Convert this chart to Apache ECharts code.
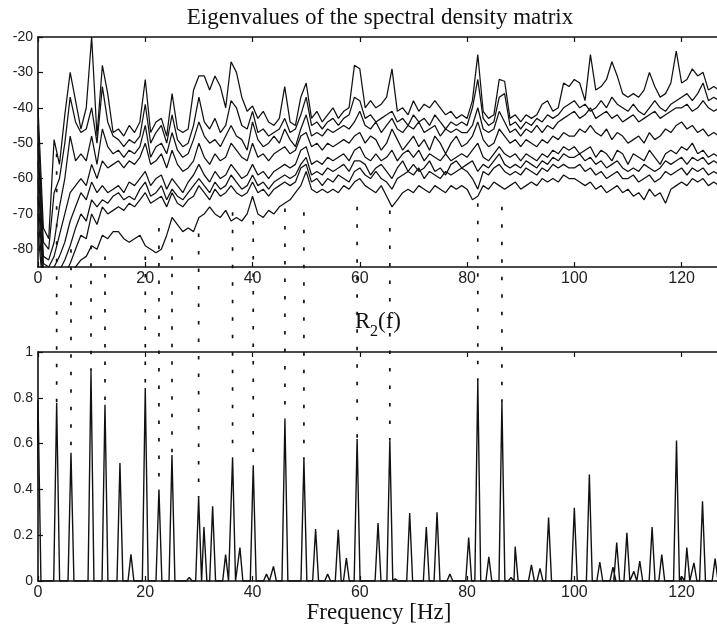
<!DOCTYPE html>
<html><head><meta charset="utf-8">
<script src="https://cdn.jsdelivr.net/npm/echarts@6/dist/echarts.min.js"></script>
<style>html,body{margin:0;padding:0;background:#fff}#c{width:717px;height:637px}</style>
</head><body><div id="c"></div>
<script>
// frequency grid (Hz), 1 Hz sampling
const freqHz = Array.from({length:128}, (_, i) => i);

// eigenvalues (dB), largest to smallest
const eig1 = [-40,-74,-77,-49,-56,-42,-30,-38,-46,-40,
 -20,-48,-28,-36,-47,-46,-48,-45,-47,-44,
 -32,-47,-44,-43,-48,-36,-46,-47,-46,-35,
 -31,-31,-35,-31,-34,-40,-27,-30,-37,-41,
 -39.5,-43,-41,-44,-45,-43,-34,-44,-45,-37,
 -33,-43,-41,-44,-42,-40,-43,-41,-40,-28,
 -29,-40,-38,-40,-39,-37,-29,-41,-40,-42,
 -38,-41,-39,-40,-38,-40,-42,-41,-43,-42,
 -43,-38,-25,-41,-43,-42,-32,-32.5,-43,-42,
 -44,-42,-43,-42,-39,-38,-41,-40,-33,-34,
 -32,-33,-38,-25,-35,-34,-32,-27,-31,-36,
 -37,-36,-37,-35,-30,-34,-37,-36,-33,-24,
 -33,-32,-29,-31,-30,-35,-34,-35];
const eig2 = [-45,-78,-80,-64,-60,-50,-37,-44,-47,-46,
 -40,-50,-34,-44,-48,-49,-51,-49,-50,-48,
 -39,-50,-47,-45,-50,-42,-49,-51,-50,-45,
 -37,-44,-46,-43,-47,-45,-38,-40,-45,-46,
 -41,-47,-46,-48,-47,-46,-43,-47,-46,-42,
 -37,-45,-44,-46,-44,-43,-45,-43,-42,-37,
 -38,-43,-42,-44,-43,-42,-41,-44,-43,-45,
 -42,-44,-43,-45,-42,-44,-46,-44,-45,-44,
 -45,-40,-32,-43,-45,-44,-37,-36,-45,-44,
 -46,-44,-45,-43,-44,-42,-43,-42,-40,-39,
 -38,-40,-39,-41,-40,-38,-40,-37,-39,-40,
 -41,-39,-41,-42,-40,-38,-40,-41,-39,-38,
 -37,-36,-38,-36,-33,-38,-37,-38];
const eig3 = [-50,-82,-83,-78,-68,-60,-48,-55,-53,-55,
 -48,-56,-46,-51,-53,-52,-54,-52,-53,-51,
 -45,-54,-51,-50,-53,-47,-52,-54,-53,-49,
 -44,-48,-50,-49,-51,-48,-45,-48,-49,-52,
 -44,-49,-51,-50,-48,-50,-46,-49,-51,-46,
 -42,-48,-47,-48,-46,-47,-46,-45,-46,-44,
 -41,-45,-46,-44,-47,-45,-43,-46,-47,-45,
 -46,-44,-47,-46,-45,-48,-46,-47,-46,-47,
 -47,-45,-40,-46,-47,-46,-41,-44,-47,-46,
 -48,-46,-47,-45,-47,-45,-46,-44,-43,-42,
 -41,-43,-42,-40,-43,-42,-41,-43,-42,-44,
 -43,-42,-44,-43,-42,-41,-43,-42,-41,-40,
 -40,-39,-41,-40,-38,-40,-41,-40];
const eig4 = [-55,-84,-85,-82,-76,-70,-64,-62,-60,-62,
 -56,-60,-55,-57,-56,-55,-57,-55,-56,-54,
 -50,-56,-55,-53,-57,-52,-56,-58,-57,-55,
 -50,-54,-56,-53,-55,-54,-50,-52,-54,-55,
 -50,-54,-53,-55,-53,-52,-51,-53,-52,-48,
 -47,-51,-50,-52,-50,-51,-50,-49,-50,-48,
 -47,-50,-48,-49,-52,-50,-46,-49,-52,-50,
 -48,-51,-49,-52,-48,-50,-53,-50,-48,-51,
 -50,-48,-44,-49,-51,-50,-46,-48,-50,-49,
 -51,-49,-50,-51,-49,-50,-48,-49,-47,-48,
 -48,-46,-47,-45,-47,-48,-46,-49,-47,-48,
 -50,-49,-48,-50,-47,-49,-48,-46,-47,-45,
 -44,-46,-45,-47,-46,-48,-47,-48];
const eig5 = [-60,-86,-87,-85,-82,-78,-72,-68,-64,-66,
 -61,-64,-62,-64,-63,-62,-64,-61,-62,-60,
 -58,-62,-60,-59,-63,-60,-62,-64,-61,-59,
 -56,-59,-61,-58,-60,-59,-56,-58,-60,-59,
 -56,-59,-58,-60,-58,-57,-56,-57,-56,-52,
 -51,-56,-55,-56,-54,-55,-54,-53,-55,-52,
 -51,-54,-55,-53,-55,-54,-52,-55,-53,-52,
 -54,-52,-55,-53,-54,-55,-53,-55,-54,-53,
 -54,-52,-50,-54,-55,-53,-51,-53,-54,-53,
 -55,-53,-54,-55,-53,-54,-52,-53,-51,-52,
 -51,-53,-52,-51,-54,-52,-53,-55,-52,-53,
 -56,-53,-54,-55,-52,-54,-56,-53,-52,-53,
 -51,-52,-50,-53,-52,-54,-53,-54];
const eig6 = [-65,-88,-89,-88,-86,-83,-79,-74,-70,-72,
 -66,-68,-66,-67,-65,-64,-66,-65,-66,-63,
 -61,-65,-64,-62,-66,-63,-65,-66,-64,-62,
 -60,-62,-64,-61,-63,-62,-59,-61,-63,-62,
 -59,-62,-61,-63,-61,-60,-59,-60,-59,-56,
 -54,-59,-58,-59,-57,-58,-57,-56,-58,-55,
 -55,-56,-59,-57,-56,-58,-60,-57,-55,-58,
 -56,-58,-57,-55,-58,-57,-59,-56,-55,-57,
 -56,-55,-58,-56,-57,-55,-53,-56,-57,-56,
 -57,-55,-56,-57,-55,-56,-54,-55,-53,-54,
 -54,-53,-55,-54,-56,-55,-57,-56,-55,-57,
 -58,-57,-58,-56,-57,-58,-57,-55,-56,-55,
 -54,-56,-54,-55,-54,-56,-55,-56];
const eig7 = [-70,-90,-91,-90,-89,-87,-84,-80,-76,-77,
 -70,-73,-68,-70,-69,-68,-69,-67,-68,-66,
 -64,-67,-66,-65,-68,-64,-67,-68,-66,-65,
 -62,-64,-66,-63,-65,-64,-62,-64,-65,-64,
 -61,-64,-63,-65,-63,-62,-61,-62,-61,-57,
 -56,-61,-60,-62,-60,-61,-59,-60,-61,-58,
 -57,-59,-60,-58,-60,-61,-63,-60,-59,-58,
 -59,-57,-60,-58,-59,-60,-58,-59,-58,-57,
 -58,-60,-63,-58,-59,-57,-56,-58,-59,-58,
 -59,-57,-58,-59,-57,-58,-56,-57,-56,-57,
 -57,-56,-58,-57,-59,-58,-60,-59,-58,-60,
 -60,-59,-61,-60,-59,-61,-60,-58,-59,-58,
 -57,-59,-57,-58,-57,-59,-58,-59];
const eig8 = [-75,-92,-93,-92,-91,-89,-87,-85,-83,-82,
 -79,-80,-76,-77,-75,-75,-77,-78,-77,-76,
 -79,-80,-81,-80,-76,-71,-73,-75,-74,-75,
 -71,-70,-68,-70,-71,-69,-72,-71,-72,-70,
 -65,-70,-71,-69,-70,-68,-67,-66,-64,-62,
 -58,-63,-64,-63,-64,-63,-64,-62,-63,-61,
 -60,-62,-63,-64,-62,-65,-68,-66,-64,-63,
 -64,-62,-63,-64,-62,-63,-64,-62,-63,-62,
 -63,-66,-65,-62,-63,-61,-62,-63,-62,-61,
 -63,-62,-61,-62,-60,-61,-60,-61,-59,-60,
 -60,-61,-62,-61,-63,-62,-64,-63,-62,-64,
 -63,-65,-64,-66,-63,-65,-64,-67,-63,-62,
 -61,-62,-60,-61,-60,-62,-61,-62];
const eigSeries = [eig1, eig2, eig3, eig4, eig5, eig6, eig7, eig8];

// R2(f) peaks
const r2PeakFreq = [0,3.48,6.15,9.88,12.49,15.28,17.33,20.0,22.55,24.98,
 28.2,29.95,30.94,32.56,34.98,36.28,37.65,40.13,42.6,43.9,
 46.04,49.58,51.76,54.0,55.98,57.5,59.5,63.4,65.6,66.6,
 69.3,72.4,74.4,76.8,80.3,82.0,84.06,86.5,88.2,88.97,
 92.0,93.6,95.2,100.0,102.8,104.75,107.2,107.9,109.8,111.1,
 112.2,114.5,116.3,119.05,120.0,120.97,122.3,123.9,126.25];
const r2PeakValue = [0.79,0.777,0.56,0.913,0.77,0.515,0.116,0.843,0.40,0.55,
 0.015,0.364,0.236,0.326,0.115,0.54,0.146,0.505,0.03,0.064,
 0.706,0.53,0.227,0.03,0.224,0.10,0.62,0.253,0.614,0.01,
 0.297,0.236,0.30,0.03,0.19,0.873,0.105,0.78,0.015,0.15,
 0.07,0.055,0.277,0.32,0.465,0.083,0.06,0.168,0.21,0.042,
 0.087,0.236,0.115,0.614,0.02,0.146,0.079,0.348,0.098];

// dashed links: frequency and the dB level where each starts in the top panel
const markedFreq = [3.48,6.15,9.88,12.49,20.0,22.55,24.98,29.95,36.28,40.13,46.04,49.58,59.5,65.6,82.0,86.5];
const markedTopDb = [-53,-80,-79,-82,-82,-74,-77,-75.5,-69.5,-72,-68.5,-69.5,-68,-69,-67,-68];

const xTicks = [0,20,40,60,80,100,120];
const eigTicks = [-80,-70,-60,-50,-40,-30,-20];
const r2Ticks = [0,0.2,0.4,0.6,0.8,1];

const INK = '#111';
const halfW = 0.55;
const r2Points = [];
r2PeakFreq.forEach((f, i) => { r2Points.push([f - halfW, 0], [f, r2PeakValue[i]], [f + halfW, 0]); });

function xAx(grid, pos, showLabel) {
  return {type:'value', gridIndex:grid, position:pos, min:0, max:126.6,
    axisLine:{onZero:false, lineStyle:{color:INK, width:1.6}},
    axisTick:{inside:true, length:5, customValues:xTicks, lineStyle:{color:INK, width:1.2}},
    axisLabel:{show:showLabel, customValues:xTicks, fontSize:16, color:'#222', margin:4, fontFamily:'Liberation Sans'},
    splitLine:{show:false}};
}
function yAx(grid, min, max, ticks) {
  return {type:'value', gridIndex:grid, min:min, max:max,
    axisLine:{onZero:false, lineStyle:{color:INK, width:1.6}},
    axisTick:{inside:true, length:5, customValues:ticks, lineStyle:{color:INK, width:1.2}},
    axisLabel:{customValues:ticks, fontSize:14, color:'#222', margin:5, fontFamily:'Liberation Sans'},
    splitLine:{show:false}};
}

const series = eigSeries.map(arr => ({
  type:'line', xAxisIndex:0, yAxisIndex:0, showSymbol:false, symbol:'none', clip:true,
  lineStyle:{color:INK, width:1.25}, data: freqHz.map((f, i) => [f, arr[i]]), z:3
}));
series.push({type:'line', xAxisIndex:2, yAxisIndex:1, showSymbol:false, symbol:'none', clip:true,
  lineStyle:{color:INK, width:1.4}, data:r2Points, z:3});

const option = {
  animation:false,
  backgroundColor:'#fff',
  grid:[{left:38, right:0, top:37, height:230}, {left:38, right:0, top:352, height:229}],
  xAxis:[xAx(0,'bottom',true), xAx(0,'top',false), xAx(1,'bottom',true), xAx(1,'top',false)],
  yAxis:[yAx(0,-85,-20,eigTicks), yAx(1,0,1,r2Ticks)],
  series:series
};

const chart = echarts.init(document.getElementById('c'), null, {renderer:'canvas'});
chart.setOption(option);

const serif = 'Liberation Serif';
const texts = [
  {type:'text', x:380, y:17.5, style:{text:'Eigenvalues of the spectral density matrix', fontSize:23, fontFamily:serif, fill:INK, align:'center', verticalAlign:'middle'}},
  {type:'text', x:355, y:321.5, style:{text:'R', fontSize:23, fontFamily:serif, fill:INK, align:'left', verticalAlign:'middle'}},
  {type:'text', x:370, y:332, style:{text:'2', fontSize:16, fontFamily:serif, fill:INK, align:'left', verticalAlign:'middle'}},
  {type:'text', x:378, y:321.5, style:{text:'(f)', fontSize:23, fontFamily:serif, fill:INK, align:'left', verticalAlign:'middle'}},
  {type:'text', x:379, y:613, style:{text:'Frequency [Hz]', fontSize:23, fontFamily:serif, fill:INK, align:'center', verticalAlign:'middle'}}
];
const dashed = markedFreq.map((f, k) => {
  const idx = r2PeakFreq.indexOf(f);
  const p1 = chart.convertToPixel({seriesIndex:0}, [f, markedTopDb[k]]);
  const p2 = chart.convertToPixel({seriesIndex:8}, [f, r2PeakValue[idx]]);
  return {type:'line', silent:true, z:1, shape:{x1:p1[0], y1:p1[1], x2:p2[0], y2:p2[1]},
    style:{stroke:INK, lineWidth:1.7, lineDash:[3.5,14]}};
});
chart.setOption({graphic: texts.concat(dashed)});
</script>
</body></html>
